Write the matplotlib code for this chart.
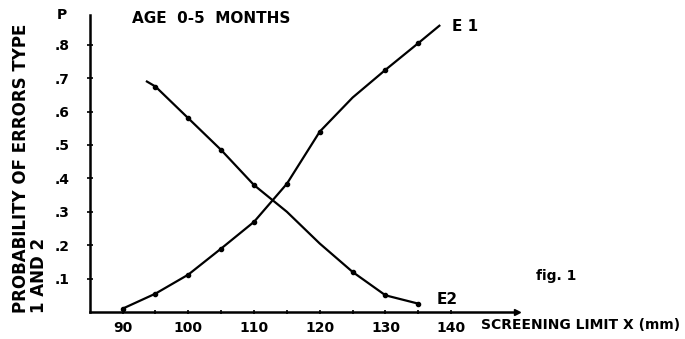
import matplotlib.pyplot as plt
from matplotlib.ticker import FuncFormatter

# E1 measured points
e1_x = [90, 95, 100, 105, 110, 115, 120, 130, 135]
e1_y = [0.01, 0.055, 0.112, 0.19, 0.27, 0.384, 0.54, 0.725, 0.805]
# E1 drawn curve (points plus where the hand-drawn line runs / stops)
e1_curve_x = [90, 95, 100, 105, 110, 115, 120, 125, 130, 135, 138.2]
e1_curve_y = [0.01, 0.055, 0.112, 0.19, 0.27, 0.384, 0.54, 0.642, 0.725, 0.805, 0.857]

# E2 measured points
e2_x = [95, 100, 105, 110, 125, 130, 135]
e2_y = [0.675, 0.58, 0.485, 0.38, 0.12, 0.05, 0.025]
# E2 drawn curve
e2_curve_x = [93.7, 95, 100, 105, 110, 115, 120, 125, 130, 135]
e2_curve_y = [0.69, 0.675, 0.58, 0.485, 0.38, 0.30, 0.205, 0.12, 0.05, 0.025]

x_major = [90, 100, 110, 120, 130, 140]
x_minor = [95, 105, 115, 125, 135]
y_ticks = [0.1, 0.2, 0.3, 0.4, 0.5, 0.6, 0.7, 0.8]

plt.rcParams['font.family'] = ['DejaVu Sans']
plt.rcParams['font.weight'] = 'bold'

fig = plt.figure(figsize=(6.85, 3.39), dpi=100)
ax = fig.add_axes([0.131, 0.0796, 0.6236, 0.877])
ax.set_xlim(85, 150)
ax.set_ylim(0, 0.89)

for s in ['top', 'right']:
    ax.spines[s].set_visible(False)
for s in ['left', 'bottom']:
    ax.spines[s].set_linewidth(1.8)

ax.xaxis.set_major_locator(plt.FixedLocator(x_major))
ax.xaxis.set_minor_locator(plt.FixedLocator(x_minor))
ax.yaxis.set_major_locator(plt.FixedLocator(y_ticks))
ax.yaxis.set_major_formatter(FuncFormatter(lambda v, p: ('%.1f' % v)[1:]))
ax.tick_params(axis='x', which='both', direction='inout', length=3, width=1.2, pad=5, labelsize=10)
ax.tick_params(axis='y', direction='inout', length=5, width=1.2, pad=12, labelsize=10)

# curves
ax.plot(e1_curve_x, e1_curve_y, color='black', lw=1.6, clip_on=False)
ax.plot(e2_curve_x, e2_curve_y, color='black', lw=1.6, clip_on=False)
ax.plot(e1_x, e1_y, 'o', color='black', ms=3, clip_on=False)
ax.plot(e2_x, e2_y, 'o', color='black', ms=3, clip_on=False)

# arrow head at end of x axis
ax.plot(150, 0, marker='>', color='black', ms=5, clip_on=False)

ax.text(80.8, 0.889, 'P', fontsize=10, ha='center', va='center')
ax.text(91.5, 0.88, 'AGE  0-5  MONTHS', fontsize=11, ha='left', va='center')
ax.text(140.1, 0.854, 'E 1', fontsize=11, ha='left', va='center')
ax.text(137.8, 0.037, 'E2', fontsize=11, ha='left', va='center')
ax.text(152.9, 0.109, 'fig. 1', fontsize=10, ha='left', va='center')
ax.text(144.6, -0.04, 'SCREENING LIMIT X (mm)', fontsize=10, ha='left', va='center', clip_on=False)

fig.text(30 / 685, 26 / 339, 'PROBABILITY OF ERRORS TYPE\n1 AND 2', fontsize=12,
         rotation=90, ha='center', va='bottom', multialignment='left', linespacing=1.0)

plt.savefig('out.png', dpi=100)
